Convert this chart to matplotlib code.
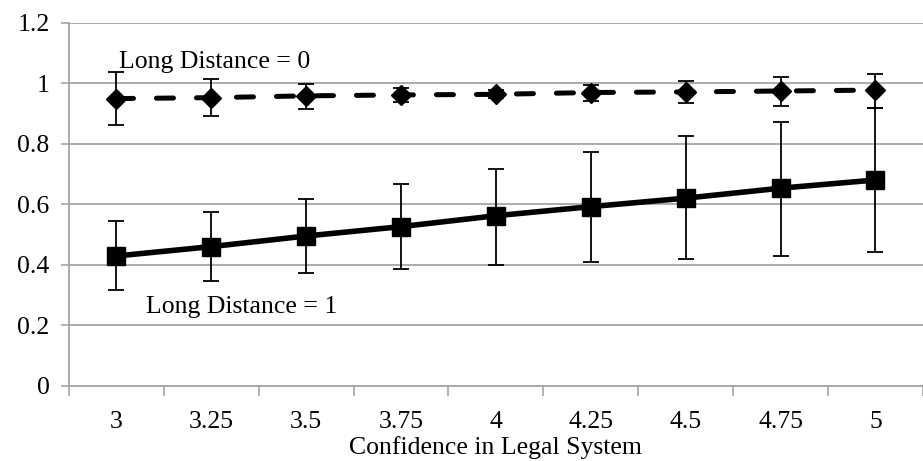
import matplotlib.pyplot as plt
import numpy as np

plt.rcParams['font.family'] = 'serif'
plt.rcParams['font.serif'] = ['Liberation Serif', 'DejaVu Serif']

categories = ['3', '3.25', '3.5', '3.75', '4', '4.25', '4.5', '4.75', '5']

# Long Distance = 0
ld0 = [0.949, 0.952, 0.958, 0.961, 0.963, 0.969, 0.971, 0.974, 0.977]
ld0_hi = [1.036, 1.014, 0.997, 0.985, 0.978, 0.993, 1.006, 1.020, 1.031]
ld0_lo = [0.861, 0.891, 0.916, 0.937, 0.950, 0.942, 0.934, 0.926, 0.918]

# Long Distance = 1
ld1 = [0.429, 0.460, 0.495, 0.526, 0.562, 0.592, 0.620, 0.653, 0.680]
ld1_hi = [0.543, 0.575, 0.616, 0.667, 0.717, 0.773, 0.824, 0.872, 0.918]
ld1_lo = [0.317, 0.347, 0.372, 0.386, 0.399, 0.408, 0.418, 0.430, 0.442]

x = np.arange(len(categories))
grey = '#a6a6a6'

fig = plt.figure(figsize=(9.23, 4.61), dpi=100)
ax = fig.add_axes([0.0748, 0.163, 0.925, 0.788])

err0 = [np.array(ld0) - np.array(ld0_lo), np.array(ld0_hi) - np.array(ld0)]
err1 = [np.array(ld1) - np.array(ld1_lo), np.array(ld1_hi) - np.array(ld1)]

ax.errorbar(x, ld0, yerr=err0, fmt='none', ecolor='black', elinewidth=1.3,
            capsize=6, capthick=1.3, zorder=3)
ax.errorbar(x, ld1, yerr=err1, fmt='none', ecolor='black', elinewidth=1.3,
            capsize=6, capthick=1.3, zorder=3)

ax.plot(x, ld0, color='black', lw=3.6, linestyle=(0, (3.4, 4.6)),
        dash_capstyle='round', marker='D', markersize=10, zorder=4)
ax.plot(x, ld1, color='black', lw=4, marker='s', markersize=12.5, zorder=4)

ax.text(0.03, 1.07, 'Long Distance = 0', fontsize=18.5, va='center', ha='left')
ax.text(0.31, 0.26, 'Long Distance = 1', fontsize=18.5, va='center', ha='left')

ax.set_xlim(-0.5, 8.5)
ax.set_ylim(0, 1.2)
ax.set_yticks([0, 0.2, 0.4, 0.6, 0.8, 1.0, 1.2])
ax.set_yticklabels(['0', '0.2', '0.4', '0.6', '0.8', '1', '1.2'])
ax.set_xticks(x)
ax.set_xticklabels(categories)
ax.set_xticks(np.arange(-0.5, 8.6, 1), minor=True)
ax.tick_params(axis='x', which='major', length=0, pad=18, labelsize=18.5)
ax.tick_params(axis='x', which='minor', length=7, width=1.2, color=grey,
               direction='out')
ax.tick_params(axis='y', length=6, width=1.2, color=grey, labelsize=18.5, pad=8)

ax.yaxis.grid(True, color=grey, lw=1.3)
ax.set_axisbelow(True)
for s in ['top', 'right']:
    ax.spines[s].set_visible(False)
for s in ['left', 'bottom']:
    ax.spines[s].set_color(grey)
    ax.spines[s].set_linewidth(1.3)

ax.set_xlabel('Confidence in Legal System', fontsize=18.5, labelpad=2)

fig.savefig('out.png', dpi=100)
